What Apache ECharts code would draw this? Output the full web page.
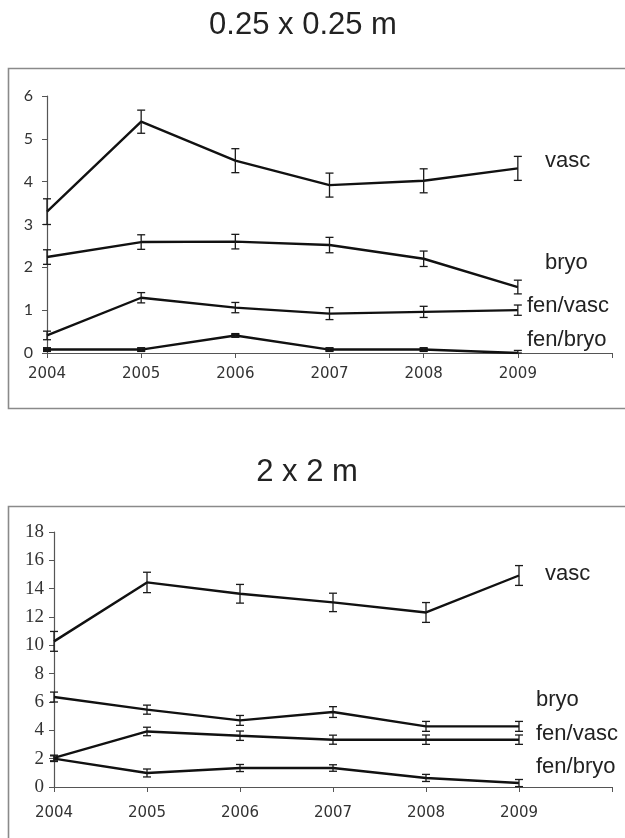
<!DOCTYPE html>
<html><head><meta charset="utf-8">
<script src="https://cdn.jsdelivr.net/npm/echarts@6/dist/echarts.min.js"></script>
<style>html,body{margin:0;padding:0;background:#fff}#c{width:625px;height:838px}</style>
</head><body><div id="c"></div>
<script>
// ---- data ----
const years = [2004, 2005, 2006, 2007, 2008, 2009];
const seriesNames = ['vasc', 'bryo', 'fen/vasc', 'fen/bryo'];
const titles = ['0.25 x 0.25 m', '2 x 2 m'];
const smallYTicks = [0, 1, 2, 3, 4, 5, 6];
const largeYTicks = [0, 2, 4, 6, 8, 10, 12, 14, 16, 18];

const smallVasc = [3.3, 5.4, 4.49, 3.92, 4.02, 4.31];
const smallVascErr = [0.3, 0.27, 0.28, 0.28, 0.28, 0.28];
const smallBryo = [2.24, 2.59, 2.6, 2.52, 2.2, 1.54];
const smallBryoErr = [0.17, 0.17, 0.17, 0.18, 0.18, 0.16];
const smallFenVasc = [0.41, 1.29, 1.06, 0.92, 0.96, 1.0];
const smallFenVascErr = [0.1, 0.12, 0.12, 0.14, 0.13, 0.12];
const smallFenBryo = [0.08, 0.08, 0.41, 0.08, 0.08, 0.0];
const smallFenBryoErr = [0.03, 0.03, 0.03, 0.03, 0.03, 0.06];

const largeVasc = [10.28, 14.44, 13.64, 13.03, 12.32, 14.93];
const largeVascErr = [0.7, 0.72, 0.66, 0.65, 0.7, 0.7];
const largeBryo = [6.35, 5.46, 4.7, 5.29, 4.28, 4.28];
const largeBryoErr = [0.35, 0.32, 0.35, 0.38, 0.35, 0.35];
const largeFenVasc = [2.05, 3.92, 3.62, 3.34, 3.34, 3.34];
const largeFenVascErr = [0.2, 0.3, 0.33, 0.32, 0.33, 0.33];
const largeFenBryo = [2.0, 0.99, 1.34, 1.34, 0.64, 0.28];
const largeFenBryoErr = [0.2, 0.28, 0.25, 0.23, 0.25, 0.25];

// ---- helpers ----
const pts = (vals) => years.map((y, i) => [y, vals[i]]);
const errPts = (vals, errs) => years.map((y, i) => [y, vals[i], errs[i]]);

function errRender(params, api) {
  const x = api.value(0), y = api.value(1), e = api.value(2);
  const top = api.coord([x, y + e]);
  const bot = api.coord([x, Math.max(0, y - e)]);
  const w = 4;
  const st = { stroke: '#1a1a1a', lineWidth: 1.3 };
  return {
    type: 'group',
    children: [
      { type: 'line', shape: { x1: top[0], y1: top[1], x2: bot[0], y2: bot[1] }, style: st },
      { type: 'line', shape: { x1: top[0] - w, y1: top[1], x2: top[0] + w, y2: top[1] }, style: st },
      { type: 'line', shape: { x1: bot[0] - w, y1: bot[1], x2: bot[0] + w, y2: bot[1] }, style: st }
    ]
  };
}

function lineSeries(name, vals, idx, sym) {
  return {
    name: name, type: 'line', xAxisIndex: idx, yAxisIndex: idx,
    data: pts(vals),
    showSymbol: !!sym, symbol: sym ? 'rect' : 'none',
    symbolSize: (v) => (v[1] > 0 ? [8, 5] : 0),
    itemStyle: { color: '#111' },
    lineStyle: { color: '#111', width: 2.4 },
    z: 3
  };
}
function errSeries(vals, errs, idx) {
  return {
    type: 'custom', xAxisIndex: idx, yAxisIndex: idx,
    renderItem: errRender, data: errPts(vals, errs), z: 4, clip: false
  };
}

const axisCol = '#555';
function xAxis(idx, margin) {
  return {
    type: 'value', gridIndex: idx, min: 2004, max: 2010, interval: 1,
    splitLine: { show: false },
    axisLine: { lineStyle: { color: axisCol, width: 1.2 } },
    axisTick: { lineStyle: { color: axisCol }, length: 5 },
    axisLabel: {
      margin: margin, color: '#333', fontFamily: 'DejaVu Sans', fontSize: 15,
      formatter: v => (v <= years[years.length - 1] ? String(v) : '')
    }
  };
}
function yAxis(idx, ticks, font, size, margin) {
  return {
    type: 'value', gridIndex: idx, min: ticks[0], max: ticks[ticks.length - 1],
    interval: ticks[1] - ticks[0],
    splitLine: { show: false },
    axisLine: { show: true, lineStyle: { color: axisCol, width: 1.2 } },
    axisTick: { show: true, lineStyle: { color: axisCol }, length: 5 },
    axisLabel: { margin: margin, color: '#333', fontFamily: font, fontSize: size }
  };
}

const chart = echarts.init(document.getElementById('c'));
const txt = (t, x, y, size, align) => ({
  type: 'text', x: x, y: y,
  style: { text: t, fill: '#222', font: size + 'px "Liberation Sans", Arial, sans-serif',
           textAlign: align || 'left', textVerticalAlign: 'middle' }
});

chart.setOption({
  animation: false,
  backgroundColor: '#fff',
  grid: [
    { left: 47, right: 13, top: 96, bottom: 485 },
    { left: 54, right: 13, top: 532, bottom: 51 }
  ],
  xAxis: [xAxis(0, 14), xAxis(1, 19)],
  yAxis: [
    yAxis(0, smallYTicks, 'Lato', 16, 14),
    yAxis(1, largeYTicks, 'Liberation Serif', 19, 10)
  ],
  graphic: [
    { type: 'rect', shape: { x: 8.5, y: 68.5, width: 700, height: 340 },
      style: { fill: 'none', stroke: '#8a8a8a', lineWidth: 1.6 }, z: -1 },
    { type: 'rect', shape: { x: 8.5, y: 506.5, width: 700, height: 400 },
      style: { fill: 'none', stroke: '#8a8a8a', lineWidth: 1.6 }, z: -1 },
    txt(titles[0], 303, 25, 31, 'center'),
    txt(titles[1], 307, 472, 31, 'center'),
    txt(seriesNames[0], 545, 161, 22),
    txt(seriesNames[1], 545, 263, 22),
    txt(seriesNames[2], 527, 306, 22),
    txt(seriesNames[3], 527, 340, 22),
    txt(seriesNames[0], 545, 574, 22),
    txt(seriesNames[1], 536, 700, 22),
    txt(seriesNames[2], 536, 734, 22),
    txt(seriesNames[3], 536, 767, 22)
  ],
  series: [
    lineSeries('vasc', smallVasc, 0), errSeries(smallVasc, smallVascErr, 0),
    lineSeries('bryo', smallBryo, 0), errSeries(smallBryo, smallBryoErr, 0),
    lineSeries('fen/vasc', smallFenVasc, 0), errSeries(smallFenVasc, smallFenVascErr, 0),
    lineSeries('fen/bryo', smallFenBryo, 0, true), errSeries(smallFenBryo, smallFenBryoErr, 0),
    lineSeries('vasc', largeVasc, 1), errSeries(largeVasc, largeVascErr, 1),
    lineSeries('bryo', largeBryo, 1), errSeries(largeBryo, largeBryoErr, 1),
    lineSeries('fen/vasc', largeFenVasc, 1), errSeries(largeFenVasc, largeFenVascErr, 1),
    lineSeries('fen/bryo', largeFenBryo, 1), errSeries(largeFenBryo, largeFenBryoErr, 1)
  ]
});
</script>
</body></html>
